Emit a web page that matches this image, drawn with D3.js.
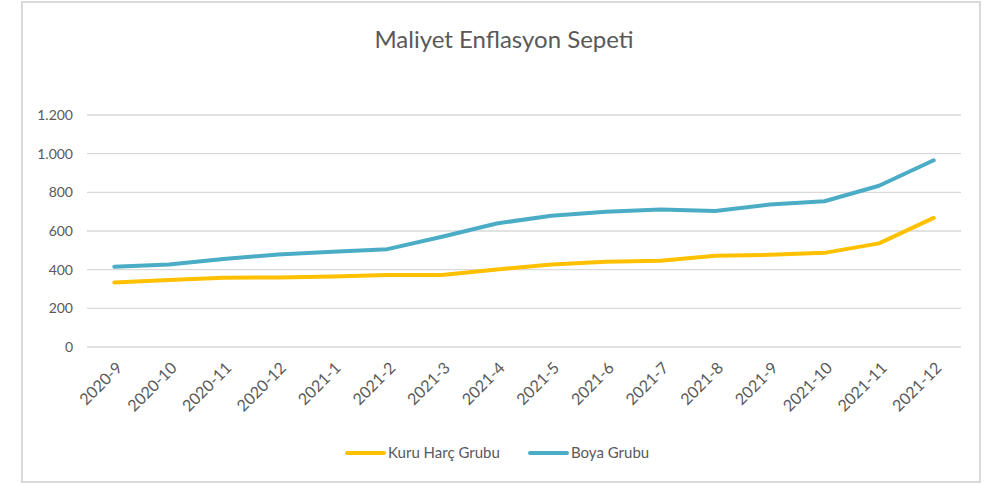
<!DOCTYPE html>
<html><head><meta charset="utf-8">
<script src="https://cdn.jsdelivr.net/npm/d3@7"></script>
<style>body{margin:0;background:#fff;}svg{display:block;font-family:Lato,"Open Sans",sans-serif;}</style>
</head><body><svg id="c" width="991" height="484"></svg>
<script>
const categories = ["2020-9","2020-10","2020-11","2020-12","2021-1","2021-2","2021-3","2021-4","2021-5","2021-6","2021-7","2021-8","2021-9","2021-10","2021-11","2021-12"];
const kuruHarc = [334,346,358,360,365,372,372,401,427,441,446,472,477,487,536,668];
const boya = [415,427,455,479,493,506,570,639,679,699,711,704,737,754,834,966];
const yTicks = [0,200,400,600,800,1000,1200];
const seriesNames = ["Kuru Harç Grubu","Boya Grubu"];
const colors = ["#FFC000","#4BACC6"];

const svg = d3.select("#c");
svg.append("rect").attr("x",22).attr("y",2).attr("width",958).attr("height",480)
  .attr("fill","#fff").attr("stroke","#d9d9d9").attr("stroke-width",2);

svg.append("text").attr("x",504).attr("y",48).attr("text-anchor","middle")
  .attr("font-size",24).attr("fill","#595959").text("Maliyet Enflasyon Sepeti");

const x = d3.scaleBand().domain(categories).range([87,961]);
const y = d3.scaleLinear().domain([0,1200]).range([347,115]);
const fmt = v => d3.format(",")(v).replace(/,/g,".");

const grid = svg.append("g");
grid.selectAll("line").data(yTicks).join("line")
  .attr("x1",87).attr("x2",961).attr("y1",d=>y(d)).attr("y2",d=>y(d))
  .attr("stroke","#d9d9d9").attr("stroke-width",1.3);

const yAxis = svg.append("g").attr("transform","translate(87,0)")
  .call(d3.axisLeft(y).tickValues(yTicks).tickFormat(fmt).tickSize(0).tickPadding(14));
yAxis.select(".domain").remove();
yAxis.selectAll("text").attr("font-size",14).attr("fill","#595959").attr("font-family","Lato,'Open Sans',sans-serif");

const xAxis = svg.append("g").attr("transform","translate(0,347)")
  .call(d3.axisBottom(x).tickSize(0).tickPadding(0));
xAxis.select(".domain").remove();
xAxis.selectAll("text").attr("font-size",16).attr("fill","#595959").attr("font-family","Lato,'Open Sans',sans-serif")
  .attr("text-anchor","end").attr("dy",0).attr("transform","translate(9,22) rotate(-45)");

const line = d3.line().x((d,i)=>x(categories[i])+x.bandwidth()/2).y(d=>y(d));
[kuruHarc,boya].forEach((s,i)=>{
  svg.append("path").datum(s).attr("d",line).attr("fill","none")
    .attr("stroke",colors[i]).attr("stroke-width",4).attr("stroke-linecap","round").attr("stroke-linejoin","round");
});

const legX = [347,530];
seriesNames.forEach((n,i)=>{
  svg.append("line").attr("x1",legX[i]).attr("x2",legX[i]+37).attr("y1",453).attr("y2",453)
    .attr("stroke",colors[i]).attr("stroke-width",4).attr("stroke-linecap","round");
  svg.append("text").attr("x",legX[i]+41).attr("y",458).attr("font-size",15).attr("fill","#595959").text(n);
});
</script></body></html>
